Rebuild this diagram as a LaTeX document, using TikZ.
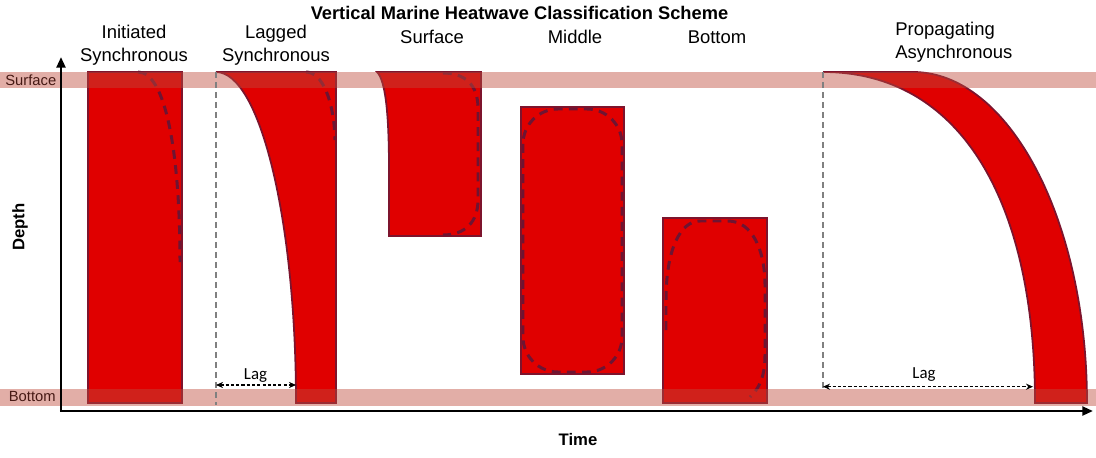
\documentclass[tikz,border=0pt]{standalone}
\usepackage{fontspec}
\setmainfont{Liberation Sans}
\newfontfamily\lagfont{Carlito}
\usetikzlibrary{arrows.meta}

\definecolor{heatred}{RGB}{224,0,0}
\definecolor{heatedge}{RGB}{125,20,45}
\definecolor{onsetline}{RGB}{110,20,50}
\definecolor{bandred}{RGB}{190,75,60}
\definecolor{bandtext}{RGB}{70,25,20}
\definecolor{laggray}{RGB}{128,128,128}

\tikzset{
    heat/.style={fill=heatred, draw=heatedge, line width=1pt},
    onset/.style={draw=onsetline, line width=1.7pt, dash pattern=on 5pt off 3.6pt},
    band/.style={fill=bandred, fill opacity=0.45},
    startline/.style={draw=laggray, line width=0.85pt, dash pattern=on 3.4pt off 2.3pt},
    lagarrow/.style={{Stealth[length=4pt,width=3.5pt]}-{Stealth[length=4pt,width=3.5pt]}, line width=0.6pt, dash pattern=on 1.8pt off 1.2pt},
    axis/.style={-{Triangle[length=6pt,width=5pt]}, line width=1.4pt},
    label/.style={font=\fontsize{10.5}{12.9}\selectfont, inner sep=0pt},
    bandlabel/.style={font=\fontsize{8.4}{10}\selectfont, text=bandtext, inner sep=0pt, anchor=base west},
    laglabel/.style={font=\lagfont\fontsize{9.6}{11}\selectfont, inner sep=0pt, anchor=base}
}

\begin{document}
\begin{tikzpicture}[x=0.02cm, y=-0.02cm]
        \useasboundingbox (0,0) rectangle (1096,457);

        \node[label, anchor=base, font=\bfseries\fontsize{10.4}{12}\selectfont] (title) at (519.5,19.3) {Vertical Marine Heatwave Classification Scheme};

        \node[label, anchor=base, align=center] (initiated) at (134,61) {Initiated\\Synchronous};
        \node[label, anchor=base, align=center] (lagged) at (276,61) {Lagged\\Synchronous};
        \node[label, anchor=base] (surfacecase) at (432,43.3) {Surface};
        \node[label, anchor=base] (middlecase) at (575,43.3) {Middle};
        \node[label, anchor=base] (bottomcase) at (717,43.3) {Bottom};
        \node[label, anchor=base west, align=left] (propagating) at (895,58.5) {Propagating\\Asynchronous};

        % events
        \draw[heat] (88,72) rectangle (182,403);
        \draw[onset] (138,72) .. controls (165,72) and (180,150) .. (180,262);

        \draw[heat] (216,72) -- (336,72) -- (336,403) -- (296,403) .. controls (296,220) and (260,72) .. (216,72) -- cycle;
        \draw[onset] (306,72) .. controls (322,72) and (334,100) .. (335,140);

        \draw[heat] (377,72) -- (481,72) -- (481,236) -- (389,236) -- (389,170) .. controls (389,110) and (385,80) .. (377,72) -- cycle;
        \draw[onset] (443,73) .. controls (465,73) and (478,85) .. (478,108) -- (478,200) .. controls (478,222) and (465,235) .. (443,235);

        \draw[heat] (521,107) rectangle (624,374);
        \draw[onset, rounded corners=0.7cm] (523,109) rectangle (622,372);

        \draw[heat] (663,218) rectangle (767,403);
        \draw[onset] (666,330) -- (666,300) .. controls (666,250) and (680,221) .. (700,221) -- (728,221) .. controls (752,221) and (765,250) .. (765,285) -- (765,355) .. controls (765,375) and (760,388) .. (750,397);

        \draw[heat] (823,72) -- (913,72) .. controls (1009,72) and (1087,220) .. (1087,403) -- (1035,403) .. controls (1035,200) and (960,72) .. (823,72) -- cycle;

        % depth bands
        \fill[band] (0,72) rectangle (1096,88);
        \fill[band] (0,389) rectangle (1096,405.5);
        \node[bandlabel] (surfaceband) at (5,85) {Surface};
        \node[bandlabel] (bottomband) at (8.5,401) {Bottom};

        % lags
        \draw[startline] (216,72) -- (216,405);
        \draw[startline] (823,72) -- (823,392);
        \coordinate (lagAstart) at (216,385);
        \coordinate (lagAend) at (296,385);
        \draw[lagarrow] (lagAstart) -- (lagAend);
        \node[laglabel] (lagA) at (255.5,379.3) {Lag};
        \coordinate (lagBstart) at (823,386.7);
        \coordinate (lagBend) at (1033,386.7);
        \draw[lagarrow] (lagBstart) -- (lagBend);
        \node[laglabel] (lagB) at (924,378.3) {Lag};

        % axes
        \coordinate (origin) at (61,411);
        \coordinate (depthtip) at (61,57);
        \coordinate (timetip) at (1093,411);
        \draw[axis] (origin) -- (depthtip);
        \draw[axis] ([xshift=-0.7pt]origin) -- (timetip);
        \node[label, font=\bfseries\fontsize{9.5}{11}\selectfont, rotate=90] (depth) at (20,227) {Depth};
        \node[label, font=\bfseries\fontsize{9.5}{11}\selectfont] (time) at (578,439.5) {Time};

    \end{tikzpicture}
\end{document}
